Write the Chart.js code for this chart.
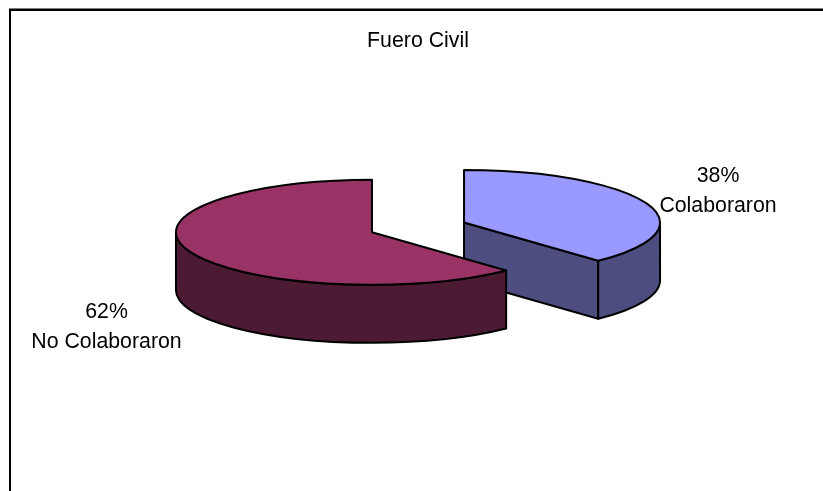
<!DOCTYPE html>
<html>
<head>
<meta charset="utf-8">
<title>Fuero Civil</title>
<script src="https://cdn.jsdelivr.net/npm/chart.js@4"></script>
<style>
  html, body { margin: 0; padding: 0; background: #fff; }
  canvas { display: block; }
</style>
</head>
<body>
<canvas id="pie" width="823" height="491"></canvas>
<script>
const chartTitle = "Fuero Civil";
const categories = ["Colaboraron", "No Colaboraron"];
const shares = [38, 62];

const topColors = ["#9999FF", "#993366"];
const sideColors = ["#4D4D80", "#4D1A33"];

const FONT = '"Liberation Sans", Arial, sans-serif';
const TEXT_SIZE = 21.3;
const squash = 0.268;
const depth = 58;
const pieRadius = 196;
const explode = 49.5;
const centerY = 227.4;

// screen position of each slice's top face, taken from the arc elements
function sliceGeom(chart, arc) {
  const area = chart.chartArea;
  const baseY = (area.top + area.bottom) / 2;
  return {
    x: arc.x,
    y: centerY + (arc.y - baseY) * squash,
    r: arc.outerRadius,
    ry: arc.outerRadius * squash,
    start: arc.startAngle,
    end: arc.endAngle,
  };
}

const pie3d = {
  id: "pie3d",
  beforeDraw(chart) {
    // only the top and left edges of the frame are in the picture
    const { ctx, width, height } = chart;
    ctx.save();
    ctx.fillStyle = "#808080";
    ctx.fillRect(9, 8, width - 9, 1);
    ctx.fillStyle = "#000";
    ctx.fillRect(9, 9, width - 9, 2);
    ctx.fillRect(9, 9, 2, height - 9);
    ctx.restore();
  },
  // the library's offset also grows the radius, so pull the slices apart here
  afterDatasetsUpdate(chart) {
    chart.getDatasetMeta(0).data.forEach((arc) => {
      const half = (arc.startAngle + arc.endAngle) / 2;
      arc.x += Math.cos(half) * explode;
      arc.y += Math.sin(half) * explode;
    });
  },
  beforeDatasetsDraw(chart) {
    const ctx = chart.ctx;
    const arcs = chart.getDatasetMeta(0).data;
    ctx.save();
    ctx.lineWidth = 2;
    ctx.lineJoin = "round";
    ctx.strokeStyle = "#000";
    arcs.forEach((arc) => {
      const g = sliceGeom(chart, arc);
      ctx.fillStyle = sideColors[arcs.indexOf(arc)];
      // cut face
      if (Math.cos(g.end) > 0.001) {
        const ex = g.x + Math.cos(g.end) * g.r;
        const ey = g.y + Math.sin(g.end) * g.ry;
        ctx.beginPath();
        ctx.moveTo(g.x, g.y);
        ctx.lineTo(ex, ey);
        ctx.lineTo(ex, ey + depth);
        ctx.lineTo(g.x, g.y + depth);
        ctx.closePath();
        ctx.fill();
        ctx.stroke();
      }
      // outer wall, front half of the ellipse only
      const a0 = Math.max(g.start, 0);
      const a1 = Math.min(g.end, Math.PI);
      ctx.beginPath();
      ctx.ellipse(g.x, g.y, g.r, g.ry, 0, a0, a1);
      ctx.ellipse(g.x, g.y + depth, g.r, g.ry, 0, a1, a0, true);
      ctx.closePath();
      ctx.fill();
      ctx.stroke();
    });
    ctx.restore();
    // flatten the pie the library draws
    const area = chart.chartArea;
    ctx.save();
    ctx.translate(0, centerY);
    ctx.scale(1, squash);
    ctx.translate(0, -(area.top + area.bottom) / 2);
  },
  afterDatasetsDraw(chart) {
    const ctx = chart.ctx;
    ctx.restore();
    const arcs = chart.getDatasetMeta(0).data;
    ctx.save();
    ctx.lineWidth = 2;
    ctx.lineJoin = "round";
    ctx.strokeStyle = "#000";
    arcs.forEach((arc) => {
      const g = sliceGeom(chart, arc);
      ctx.beginPath();
      ctx.moveTo(g.x, g.y);
      ctx.ellipse(g.x, g.y, g.r, g.ry, 0, g.start, g.end);
      ctx.closePath();
      ctx.stroke();
    });
    // data labels
    const total = shares.reduce((a, b) => a + b, 0);
    const labelAt = [[718, 182], [106.5, 318]];
    ctx.fillStyle = "#000";
    ctx.font = TEXT_SIZE + "px " + FONT;
    ctx.textAlign = "center";
    ctx.textBaseline = "alphabetic";
    categories.forEach((name, i) => {
      const pct = Math.round((shares[i] / total) * 100) + "%";
      ctx.fillText(pct, labelAt[i][0], labelAt[i][1]);
      ctx.fillText(name, labelAt[i][0], labelAt[i][1] + 30);
    });
    ctx.restore();
  },
};

new Chart(document.getElementById("pie"), {
  type: "pie",
  data: {
    labels: categories,
    datasets: [
      {
        data: shares,
        backgroundColor: topColors,
        borderWidth: 0,
        radius: pieRadius,
        clip: false,
      },
    ],
  },
  plugins: [pie3d],
  options: {
    responsive: false,
    animation: false,
    events: [],
    layout: { padding: { left: 13 } },
    plugins: {
      legend: { display: false },
      tooltip: { enabled: false },
      title: {
        display: true,
        text: chartTitle,
        color: "#000",
        font: { family: FONT, size: TEXT_SIZE, weight: "normal" },
        padding: { top: 28, bottom: 10 },
      },
    },
  },
});
</script>
</body>
</html>
